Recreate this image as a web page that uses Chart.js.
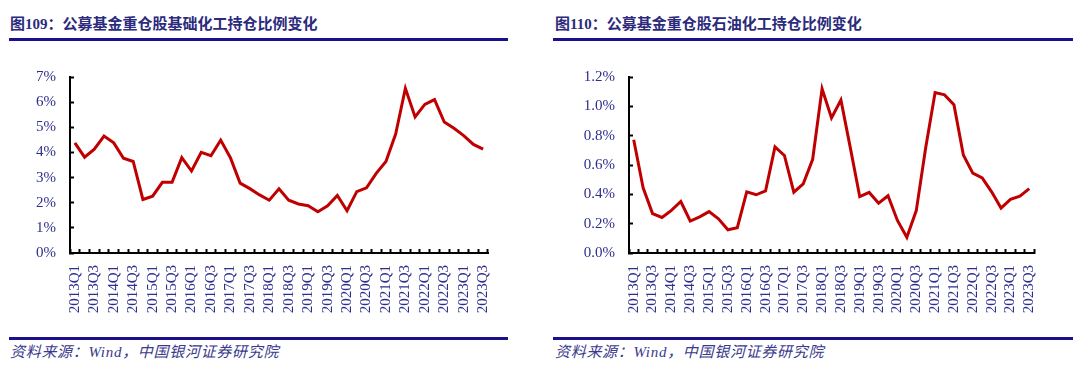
<!DOCTYPE html>
<html><head><meta charset="utf-8">
<script src="https://cdn.jsdelivr.net/npm/chart.js@4/dist/chart.umd.min.js"></script>
<style>
body{margin:0;width:1080px;height:382px;background:#fff;position:relative;overflow:hidden}
.t{position:absolute;top:13px;font:bold 15px "Liberation Serif","Noto Sans CJK SC";color:#2B2A7C;white-space:nowrap;line-height:22px}
.l{position:absolute;height:3px;background:#1B0F8A}
.s{position:absolute;top:341px;font:italic 15px "Liberation Serif","Noto Sans CJK SC";color:#3A3A8C;white-space:nowrap;line-height:22px;letter-spacing:0.7px}
canvas{position:absolute;top:50px}
</style></head>
<body>
<div class="t" style="left:10px">图109：公募基金重仓股基础化工持仓比例变化</div>
<div class="l" style="left:9px;width:499px;top:38px"></div>
<div class="t" style="left:555px">图110：公募基金重仓股石油化工持仓比例变化</div>
<div class="l" style="left:553px;width:520px;top:38px"></div>
<canvas id="c1" width="540" height="280" style="left:0px"></canvas>
<canvas id="c2" width="540" height="280" style="left:540px"></canvas>
<div class="l" style="left:9px;width:499px;top:337px"></div>
<div class="l" style="left:553px;width:520px;top:337px"></div>
<div class="s" style="left:10px">资料来源：Wind，中国银河证券研究院</div>
<div class="s" style="left:555px">资料来源：Wind，中国银河证券研究院</div>
<script>
const quarters = ["2013Q1","2013Q2","2013Q3","2013Q4","2014Q1","2014Q2","2014Q3","2014Q4","2015Q1","2015Q2","2015Q3","2015Q4","2016Q1","2016Q2","2016Q3","2016Q4","2017Q1","2017Q2","2017Q3","2017Q4","2018Q1","2018Q2","2018Q3","2018Q4","2019Q1","2019Q2","2019Q3","2019Q4","2020Q1","2020Q2","2020Q3","2020Q4","2021Q1","2021Q2","2021Q3","2021Q4","2022Q1","2022Q2","2022Q3","2022Q4","2023Q1","2023Q2","2023Q3"];
const basicChem = [4.38,3.81,4.13,4.65,4.38,3.77,3.64,2.13,2.26,2.81,2.81,3.79,3.26,4.00,3.87,4.49,3.79,2.78,2.56,2.31,2.10,2.55,2.10,1.95,1.88,1.64,1.88,2.29,1.68,2.44,2.59,3.17,3.64,4.73,6.55,5.41,5.91,6.10,5.21,4.96,4.67,4.32,4.13];
const petroChem = [0.772,0.444,0.269,0.242,0.291,0.351,0.218,0.246,0.282,0.233,0.158,0.173,0.417,0.397,0.424,0.723,0.665,0.415,0.472,0.639,1.12,0.921,1.043,0.717,0.384,0.413,0.339,0.39,0.222,0.107,0.289,0.717,1.094,1.078,1.011,0.668,0.544,0.512,0.417,0.306,0.366,0.388,0.439];
const leftTicks = {min:0, max:7, step:1, digits:0};
const rightTicks = {min:0, max:1.2, step:0.2, digits:1};

const labelColor = '#2E2E8E';
const fontSpec = {family:'"Liberation Serif", serif', size:15};

function makeChart(id, data, tk, geo){
  new Chart(document.getElementById(id), {
    type:'line',
    data:{labels:quarters, datasets:[{data:data, borderColor:'#C00000', borderWidth:3, pointRadius:0, tension:0, fill:false}]},
    options:{
      responsive:false, animation:false, devicePixelRatio:1,
      layout:{padding:{left:0,right:geo.padRight,top:geo.padTop,bottom:0}},
      plugins:{legend:{display:false}, tooltip:{enabled:false}},
      scales:{
        x:{
          offset:true,
          grid:{offset:true, drawOnChartArea:false, tickLength:-4, tickColor:'#000', tickWidth:2},
          border:{display:true, color:'#000', width:2},
          ticks:{autoSkip:false, minRotation:90, maxRotation:90, padding:16, color:labelColor, font:fontSpec,
            callback:function(v,i){return i%2===0 ? quarters[i] : '';}},
          afterFit:function(s){s.height = geo.xHeight;}
        },
        y:{
          min:tk.min, max:tk.max,
          grid:{drawOnChartArea:false, tickLength:-4, tickColor:'#000', tickWidth:2},
          border:{display:true, color:'#000', width:2},
          ticks:{stepSize:tk.step, padding:18, color:labelColor, font:fontSpec,
            callback:function(v){return v.toFixed(tk.digits)+'%';}},
          afterFit:function(s){s.width = geo.yWidth;}
        }
      }
    }
  });
}
makeChart('c1', basicChem, leftTicks, {padRight:52, padTop:21, xHeight:77, yWidth:70});
makeChart('c2', petroChem, rightTicks, {padRight:46, padTop:22, xHeight:77, yWidth:89});
</script>
</body></html>
